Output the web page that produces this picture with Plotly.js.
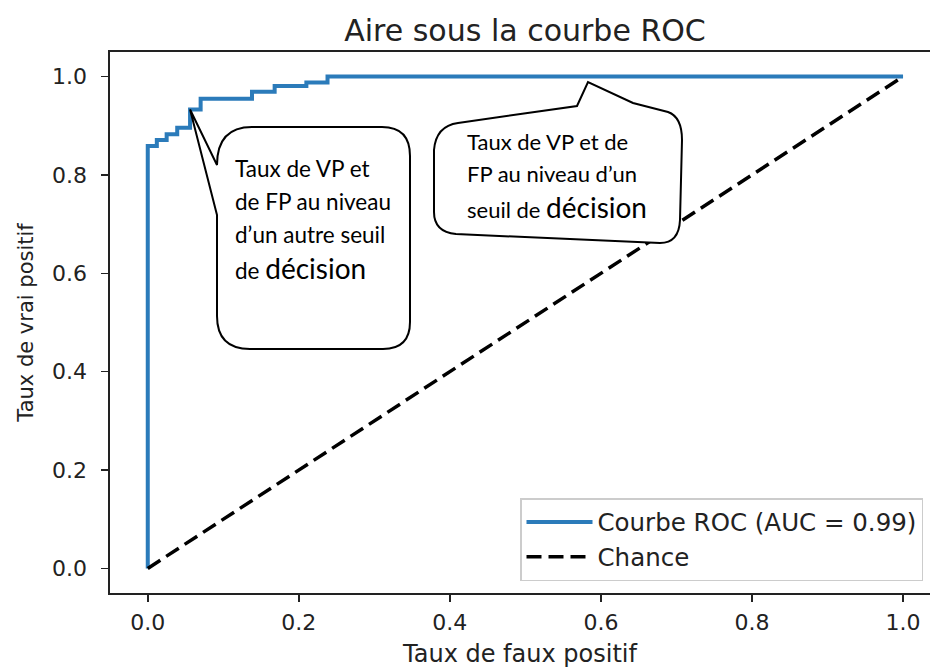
<!DOCTYPE html>
<html><head><meta charset="utf-8">
<script src="https://cdn.plot.ly/plotly-3.0.1.min.js"></script>
<style>html,body{margin:0;padding:0;background:#fff;}#chart{width:930px;height:668px;}</style>
</head><body><div id="chart"></div>
<script>
// ---- data ----
const fpr = [0, 0, 0.012, 0.025, 0.039, 0.056, 0.070, 0.138, 0.168, 0.210, 0.238, 1.0];
const tpr = [0, 0.859, 0.871, 0.883, 0.896, 0.933, 0.955, 0.969, 0.981, 0.988, 1.0, 1.0];
const chanceX = [0, 1];
const chanceY = [0, 1];
const rocName = 'Courbe ROC (AUC = 0.99)';
const chanceName = 'Chance';
const tickVals = [0, 0.2, 0.4, 0.6, 0.8, 1.0];
const tickText = ['0.0', '0.2', '0.4', '0.6', '0.8', '1.0'];
const titleText = 'Aire sous la courbe ROC';
const xTitle = 'Taux de faux positif';
const yTitle = 'Taux de vrai positif';
const bubble1Lines = ['Taux de VP et', 'de FP au niveau', 'd’un autre seuil', 'de <span style="font-size:28px">décision</span>'];
const bubble2Lines = ['Taux de VP et de', 'FP au niveau d’un', 'seuil de <span style="font-size:28px">décision</span>'];

// ---- geometry ----
const W = 930, H = 668;
const M = {l: 110, r: 0, t: 52, b: 75};
const PW = W - M.l - M.r, PH = H - M.t - M.b;
const XR = [-0.05, 1.0357], YR = [-0.05, 1.05];
function px2paper(px, py) { return [(px - M.l) / PW, (H - M.b - py) / PH]; }
function data2px(x, y) {
  return [M.l + (x - XR[0]) / (XR[1] - XR[0]) * PW, M.t + (YR[1] - y) / (YR[1] - YR[0]) * PH];
}
function pathFrom(cmds) {
  return cmds.map(c => {
    const L = c[0]; let s = L;
    for (let i = 1; i < c.length; i += 2) {
      const p = px2paper(c[i], c[i + 1]);
      s += (i > 1 ? ' ' : '') + p[0].toFixed(5) + ',' + p[1].toFixed(5);
    }
    return s;
  }).join(' ') + ' Z';
}

const tip1 = data2px(fpr[5], tpr[5]);
const b1 = pathFrom([
  ['M', 217, 215], ['L', tip1[0], tip1[1]], ['L', 217, 165],
  ['Q', 217, 127, 252, 127], ['L', 382, 127], ['Q', 410, 127, 410, 156],
  ['L', 410, 322], ['Q', 410, 349, 383, 349], ['L', 250, 349],
  ['Q', 217, 349, 217, 316]
]);
const b2 = pathFrom([
  ['M', 434, 150], ['Q', 436, 126, 458, 123], ['L', 577, 106], ['L', 588, 82],
  ['L', 633, 103], ['L', 668, 112], ['Q', 682, 117, 682, 140],
  ['L', 680, 220], ['Q', 679, 243, 660, 243], ['L', 456, 234],
  ['Q', 434, 232, 434, 212]
]);

const FONT = 'DejaVu Sans';
const TXT = '#222222';
const annotations = [];
const b1y = [168, 201, 234, 268];
bubble1Lines.forEach((t, i) => {
  const p = px2paper(233, b1y[i]);
  annotations.push({xref: 'paper', yref: 'paper', x: p[0], y: p[1], xanchor: 'left', yanchor: 'middle',
    text: t, showarrow: false, font: {family: 'Lato', size: 22.5, color: '#000'}});
});
const b2y = [141, 173, 207];
bubble2Lines.forEach((t, i) => {
  const p = px2paper(465, b2y[i]);
  annotations.push({xref: 'paper', yref: 'paper', x: p[0], y: p[1], xanchor: 'left', yanchor: 'middle',
    text: t, showarrow: false, font: {family: 'Lato', size: 22, color: '#000'}});
});

const traces = [
  {x: fpr, y: tpr, type: 'scatter', mode: 'lines', name: rocName,
   line: {color: '#2b7bba', width: 4, shape: 'hv'}},
  {x: chanceX, y: chanceY, type: 'scatter', mode: 'lines', name: chanceName,
   line: {color: '#000000', width: 3.5, dash: '15px,7px'}}
];

const axisCommon = {
  showgrid: false, zeroline: false, showline: true, linecolor: TXT, linewidth: 1.6,
  ticks: 'outside', ticklen: 7, tickwidth: 1.5, tickcolor: TXT,
  tickvals: tickVals, ticktext: tickText,
  tickfont: {family: FONT, size: 22, color: TXT}
};

const layout = {
  width: W, height: H, margin: M,
  paper_bgcolor: '#fff', plot_bgcolor: '#fff',
  title: {text: titleText, x: (525 - M.l) / PW, xref: 'paper', xanchor: 'center',
          y: 1 - 30 / H, yref: 'container', yanchor: 'middle',
          font: {family: FONT, size: 30, color: TXT}},
  xaxis: Object.assign({}, axisCommon, {range: XR, mirror: true, ticklabelstandoff: 2,
    title: {text: xTitle, standoff: 14, font: {family: FONT, size: 24, color: TXT}}}),
  yaxis: Object.assign({}, axisCommon, {range: YR, mirror: false, ticklabelstandoff: 10,
    title: {text: yTitle, standoff: 12, font: {family: FONT, size: 21, color: TXT}}}),
  showlegend: true,
  legend: {x: (520 - M.l) / PW, y: (H - M.b - 498) / PH, xanchor: 'left', yanchor: 'top',
    bgcolor: '#fff', bordercolor: '#cccccc', borderwidth: 1.5, itemwidth: 66,
    font: {family: FONT, size: 24.5, color: TXT}, tracegroupgap: 0},
  shapes: [
    {type: 'path', xref: 'paper', yref: 'paper', path: b1, fillcolor: '#fff',
     line: {color: '#000', width: 2}, layer: 'above'},
    {type: 'path', xref: 'paper', yref: 'paper', path: b2, fillcolor: '#fff',
     line: {color: '#000', width: 2}, layer: 'above'}
  ],
  annotations: annotations
};

Plotly.newPlot('chart', traces, layout, {displayModeBar: false, staticPlot: true});
</script>
</body></html>
